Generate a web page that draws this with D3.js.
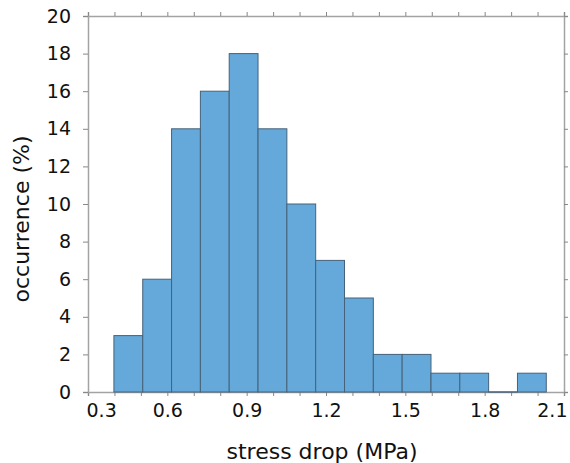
<!DOCTYPE html>
<html>
<head>
<meta charset="utf-8">
<script src="https://cdn.jsdelivr.net/npm/d3@7"></script>
<style>
  body { margin: 0; background: #fff; }
  svg { display: block; }
  svg text { font-family: "DejaVu Sans", sans-serif; }
</style>
</head>
<body>
<svg id="chart"></svg>
<script>
// histogram bins (stress drop, MPa) and occurrence (%)
const binEdges = [0.398, 0.507, 0.616, 0.725, 0.834, 0.943, 1.052, 1.161, 1.270, 1.379, 1.488, 1.597, 1.706, 1.815, 1.924, 2.033];
const occurrence = [3, 6, 14, 16, 18, 14, 10, 7, 5, 2, 2, 1, 1, 0, 1];
const xTickLabels = [0.3, 0.6, 0.9, 1.2, 1.5, 1.8, 2.1];
const yTickLabels = [0, 2, 4, 6, 8, 10, 12, 14, 16, 18, 20];

const w = 570, h = 463;
const margin = {top: 16, right: 6, bottom: 71, left: 88};

const svg = d3.select('#chart').attr('width', w).attr('height', h);

const x = d3.scaleLinear().domain([0.3, 2.1]).range([margin.left, w - margin.right]);
const y = d3.scaleLinear().domain([0, 20]).range([h - margin.bottom, margin.top]);

const bins = occurrence.map((v, i) => ({x0: binEdges[i], x1: binEdges[i + 1], v: v}));

const minorX = d3.range(3, 22).map(d => d / 10);
const axisCol = '#a3a3a3';

// bottom axis
const xAxis = svg.append('g')
  .attr('transform', `translate(0,${h - margin.bottom})`)
  .call(d3.axisBottom(x).tickValues(minorX).tickSize(4).tickFormat(d => {
    const t = xTickLabels.find(v => Math.abs(v - d) < 1e-6);
    return t === undefined ? '' : d3.format('.1f')(t);
  }));
xAxis.selectAll('text').attr('font-size', 19).attr('fill', '#111').attr('dy', '0.95em');
xAxis.selectAll('text').filter(d => Math.abs(d - 0.3) < 1e-6).attr('text-anchor', 'start').attr('dx', -2);
xAxis.selectAll('text').filter(d => Math.abs(d - 2.1) < 1e-6).attr('text-anchor', 'end').attr('dx', 3);

// top axis
svg.append('g')
  .attr('transform', `translate(0,${margin.top})`)
  .call(d3.axisTop(x).tickValues(minorX).tickSize(4).tickFormat(''));

// left axis
const yAxis = svg.append('g')
  .attr('transform', `translate(${margin.left},0)`)
  .call(d3.axisLeft(y).tickValues(yTickLabels).tickSize(5).tickPadding(12));
yAxis.selectAll('text').attr('font-size', 19).attr('fill', '#111');

// right axis
svg.append('g')
  .attr('transform', `translate(${w - margin.right},0)`)
  .call(d3.axisRight(y).tickValues(yTickLabels).tickSize(4).tickFormat(''));

svg.selectAll('.domain').attr('stroke', axisCol).attr('stroke-width', 1.5);
svg.selectAll('.tick line').attr('stroke', '#888');

// bars
const barG = svg.append('g');
barG.selectAll('rect')
  .data(bins.filter(d => d.v > 0))
  .enter()
  .append('rect')
  .attr('x', d => x(d.x0))
  .attr('y', d => y(d.v))
  .attr('width', d => x(d.x1) - x(d.x0))
  .attr('height', d => y(0) - y(d.v))
  .attr('fill', '#64a9d9')
  .attr('stroke', '#46627a')
  .attr('stroke-width', 1);

// empty bins show only their outline on the baseline
barG.selectAll('line')
  .data(bins.filter(d => d.v === 0))
  .enter()
  .append('line')
  .attr('x1', d => x(d.x0))
  .attr('x2', d => x(d.x1))
  .attr('y1', y(0))
  .attr('y2', y(0))
  .attr('stroke', '#46627a')
  .attr('stroke-width', 1.5);

// titles
svg.append('text')
  .attr('x', (x(0.3) + x(2.1)) / 2 - 4)
  .attr('y', 459)
  .attr('text-anchor', 'middle')
  .attr('font-size', 22)
  .attr('fill', '#111')
  .text('stress drop (MPa)');

svg.append('text')
  .attr('transform', 'translate(29,219) rotate(-90)')
  .attr('text-anchor', 'middle')
  .attr('font-size', 22)
  .attr('fill', '#111')
  .text('occurrence (%)');
</script>
</body>
</html>
